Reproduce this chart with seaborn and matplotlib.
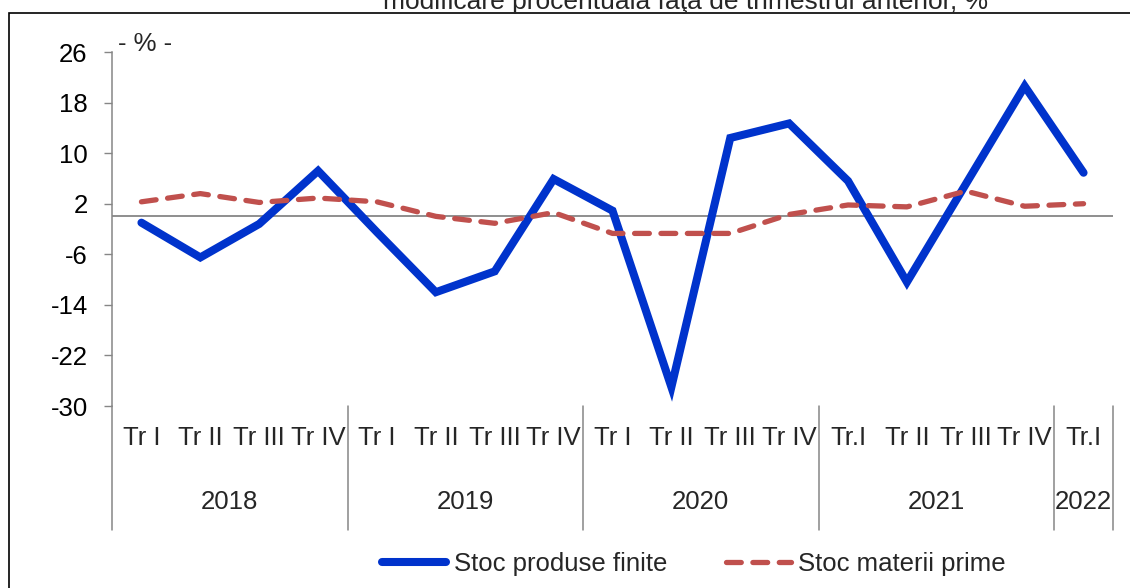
import pandas as pd
import matplotlib.pyplot as plt
from matplotlib.patches import Rectangle
import seaborn as sns

# quarterly change vs previous quarter, %
quarters = ["Tr I", "Tr II", "Tr III", "Tr IV",
            "Tr I", "Tr II", "Tr III", "Tr IV",
            "Tr I", "Tr II", "Tr III", "Tr IV",
            "Tr.I", "Tr II", "Tr III", "Tr IV",
            "Tr.I"]
years = ["2018", "2019", "2020", "2021", "2022"]
year_sizes = [4, 4, 4, 4, 1]
produse_finite = [-1.0, -6.5, -1.2, 7.2, -2.5, -12.0, -8.7, 5.9, 0.9, -27.0,
                  12.4, 14.7, 5.6, -10.4, 5.1, 20.6, 6.9]
materii_prime = [2.3, 3.6, 2.2, 2.9, 2.3, 0.0, -1.1, 0.6, -2.7, -2.7,
                 -2.7, 0.3, 1.8, 1.5, 4.0, 1.6, 2.0]
yticks = [-30, -22, -14, -6, 2, 10, 18, 26]

blue = "#0033CC"
red = "#C0504D"
grey = "#868686"

sns.set_style("white")
plt.rcParams["font.family"] = ["Liberation Sans", "DejaVu Sans"]
fs = 18.5

df = pd.DataFrame({"x": range(len(quarters)),
                   "finite": produse_finite,
                   "prime": materii_prime})

fig = plt.figure(figsize=(11.3, 5.88), dpi=100)
W, H = 1130, 588
ax = fig.add_axes([112 / W, 1 - 406 / H, (1113 - 112) / W, (406 - 52) / H])

sns.lineplot(data=df, x="x", y="finite", ax=ax, color=blue, lw=5.8,
             label="Stoc produse finite", solid_capstyle="round",
             solid_joinstyle="miter")
sns.lineplot(data=df, x="x", y="prime", ax=ax, color=red, lw=3.8,
             label="Stoc materii prime", linestyle=(0, (2.8, 2.2)),
             dash_capstyle="round")
ax.axhline(0, color=grey, lw=1.3, zorder=0)

ax.set_xlim(-0.5, len(quarters) - 0.5)
ax.set_ylim(-30, 26)
ax.set_yticks(yticks)
ax.set_yticklabels([str(v) for v in yticks], fontsize=fs)
ax.set_xticks([])
ax.set_xlabel("")
ax.set_ylabel("")
for s in ["top", "right", "bottom"]:
    ax.spines[s].set_visible(False)
ax.spines["left"].set_color(grey)
ax.spines["left"].set_linewidth(1.1)
ax.tick_params(axis="y", left=True, length=5.5, width=1.0, color=grey,
               pad=12, labelcolor="black")

# two-level category axis
trans = ax.get_xaxis_transform()
for i, q in enumerate(quarters):
    ax.text(i, -32 / 354, q, transform=trans, ha="center", va="center",
            fontsize=fs, clip_on=False)
start = 0
seps = [-0.5]
for y, n in zip(years, year_sizes):
    ax.text(start + (n - 1) / 2, -96 / 354, y, transform=trans,
            ha="center", va="center", fontsize=fs, clip_on=False)
    start += n
    seps.append(start - 0.5)
for sx in seps:
    ax.plot([sx, sx], [0, -124 / 354], transform=trans, color=grey,
            lw=1.1, clip_on=False)

ax.text(118 / W, 1 - 44 / H, "- % -", transform=fig.transFigure,
        fontsize=fs, ha="left", va="center")
fig.text(686 / W, 1 - 9 / H,
         "modificare procentuală faţă de trimestrul anterior, %",
         fontsize=19, ha="center", va="baseline")

# outer frame
fig.patches.append(Rectangle((9 / W, -0.1), 1.2, 1 - 13 / H + 0.1,
                             transform=fig.transFigure, fill=False,
                             edgecolor="black", lw=1.2))

ax.get_legend().remove()
handles, labels = ax.get_legend_handles_labels()
fig.legend(handles, labels, loc="center", bbox_to_anchor=(694 / W, 1 - 564 / H),
           ncol=2, frameon=False, fontsize=fs, handlelength=2.5,
           handletextpad=0.3, columnspacing=2.3)

fig.savefig("out.png", dpi=100)
